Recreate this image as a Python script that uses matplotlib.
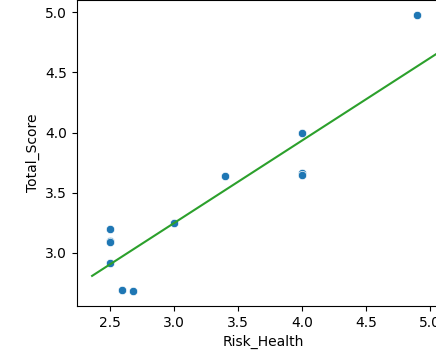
import matplotlib
matplotlib.use("Agg")
import matplotlib.pyplot as plt
import seaborn as sns
import pandas as pd

risk_health = [2.5, 2.5, 2.5, 2.5, 2.59, 2.68, 3.0, 3.4, 4.0, 4.0, 4.0, 4.9]
total_score = [3.2, 3.1, 3.09, 2.92, 2.69, 2.685, 3.25, 3.64, 4.0, 3.66, 3.65, 4.975]

fit_x = [2.36, 5.15]
fit_y = [2.81, 4.72]

df = pd.DataFrame({"Risk_Health": risk_health, "Total_Score": total_score})

fig = plt.figure(figsize=(4.36, 3.55), dpi=100)
ax = fig.add_axes([77 / 436, 49 / 355, 372 / 436, 306 / 355])
sns.scatterplot(data=df, x="Risk_Health", y="Total_Score", ax=ax, color="#1f77b4")
ax.plot(fit_x, fit_y, color="#2ca02c", linewidth=1.5)
ax.set_xlim(2.242, 5.15)
ax.set_ylim(2.56, 5.10)
ax.set_xticks([2.5, 3.0, 3.5, 4.0, 4.5, 5.0])
ax.set_yticks([3.0, 3.5, 4.0, 4.5, 5.0])
fig.savefig("out.png", dpi=100)
